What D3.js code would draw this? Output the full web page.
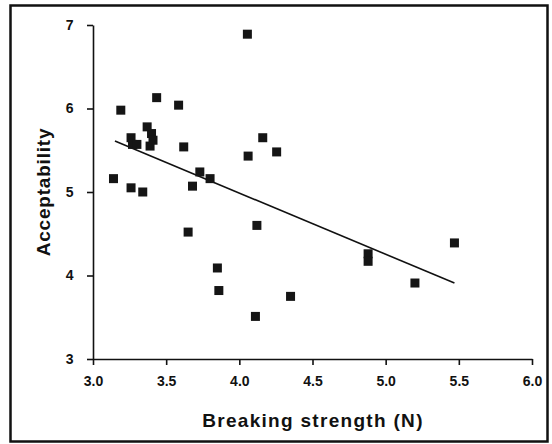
<!DOCTYPE html>
<html>
<head>
<meta charset="utf-8">
<script src="https://cdn.jsdelivr.net/npm/d3@7"></script>
<style>
  body { margin: 0; background: #fff; }
  svg text { fill: #111; font-family: "Liberation Sans", Arial, sans-serif; font-weight: bold; }
</style>
</head>
<body>
<div id="chart"></div>
<script>
// breaking strength (N) and acceptability score
var strength = [3.14, 3.19, 3.435, 3.585, 3.26, 3.27, 3.30, 3.37, 3.40, 3.41, 3.39, 3.62,
  3.26, 3.34, 3.68, 3.73, 3.80, 4.055, 4.06, 4.16, 4.255, 3.65, 4.12, 3.85, 3.86,
  4.11, 4.35, 4.88, 4.88, 5.20, 5.47];
var acceptability = [5.16, 5.98, 6.13, 6.04, 5.65, 5.57, 5.57, 5.78, 5.70, 5.62, 5.55, 5.54,
  5.05, 5.00, 5.07, 5.24, 5.16, 6.89, 5.43, 5.65, 5.48, 4.52, 4.60, 4.09, 3.82,
  3.51, 3.75, 4.26, 4.17, 3.91, 4.39];

// fitted line end points
var fitX = [3.15, 5.47];
var fitY = [5.61, 3.91];

var xTicks = [3.0, 3.5, 4.0, 4.5, 5.0, 5.5, 6.0];
var yTicks = [3, 4, 5, 6, 7];

var width = 552, height = 444;

var svg = d3.select('#chart').append('svg')
  .attr('width', width)
  .attr('height', height);

// frame round the whole figure
svg.append('rect')
  .attr('x', 10.5).attr('y', 5.5)
  .attr('width', 537).attr('height', 436)
  .attr('fill', 'none')
  .attr('stroke', '#111')
  .attr('stroke-width', 2.5);

var x = d3.scaleLinear().domain([3, 6]).range([93, 532]);
var y = d3.scaleLinear().domain([3, 7]).range([359, 25]);

var xAxis = svg.append('g')
  .attr('transform', 'translate(0,359)')
  .call(d3.axisBottom(x).tickValues(xTicks).tickFormat(d3.format('.1f')).tickSize(6).tickSizeOuter(0));

var yAxis = svg.append('g')
  .attr('transform', 'translate(93,0)')
  .call(d3.axisLeft(y).tickValues(yTicks).tickFormat(d3.format('d')).tickSize(6).tickSizeOuter(0));

[xAxis, yAxis].forEach(function (a) {
  a.selectAll('path, line').attr('stroke', '#111').attr('stroke-width', 1.6);
  a.selectAll('text').attr('font-size', 14).attr('font-family', null).attr('fill', '#111');
});
xAxis.selectAll('text').attr('dy', '1.25em');
yAxis.selectAll('text').attr('dx', '-0.75em');

// regression line
svg.append('line')
  .attr('x1', x(fitX[0])).attr('y1', y(fitY[0]))
  .attr('x2', x(fitX[1])).attr('y2', y(fitY[1]))
  .attr('stroke', '#111')
  .attr('stroke-width', 1.6);

var size = 9;
svg.append('g').selectAll('rect')
  .data(strength)
  .join('rect')
  .attr('x', (d, i) => x(d) - size / 2)
  .attr('y', (d, i) => y(acceptability[i]) - size / 2)
  .attr('width', size)
  .attr('height', size)
  .attr('fill', '#151515');

svg.append('text')
  .attr('x', 313).attr('y', 427)
  .attr('text-anchor', 'middle')
  .attr('font-size', 19)
  .attr('letter-spacing', 1.3)
  .text('Breaking strength (N)');

svg.append('text')
  .attr('transform', 'translate(50,192) rotate(-90)')
  .attr('text-anchor', 'middle')
  .attr('font-size', 19)
  .attr('letter-spacing', 0.8)
  .text('Acceptability');
</script>
</body>
</html>
